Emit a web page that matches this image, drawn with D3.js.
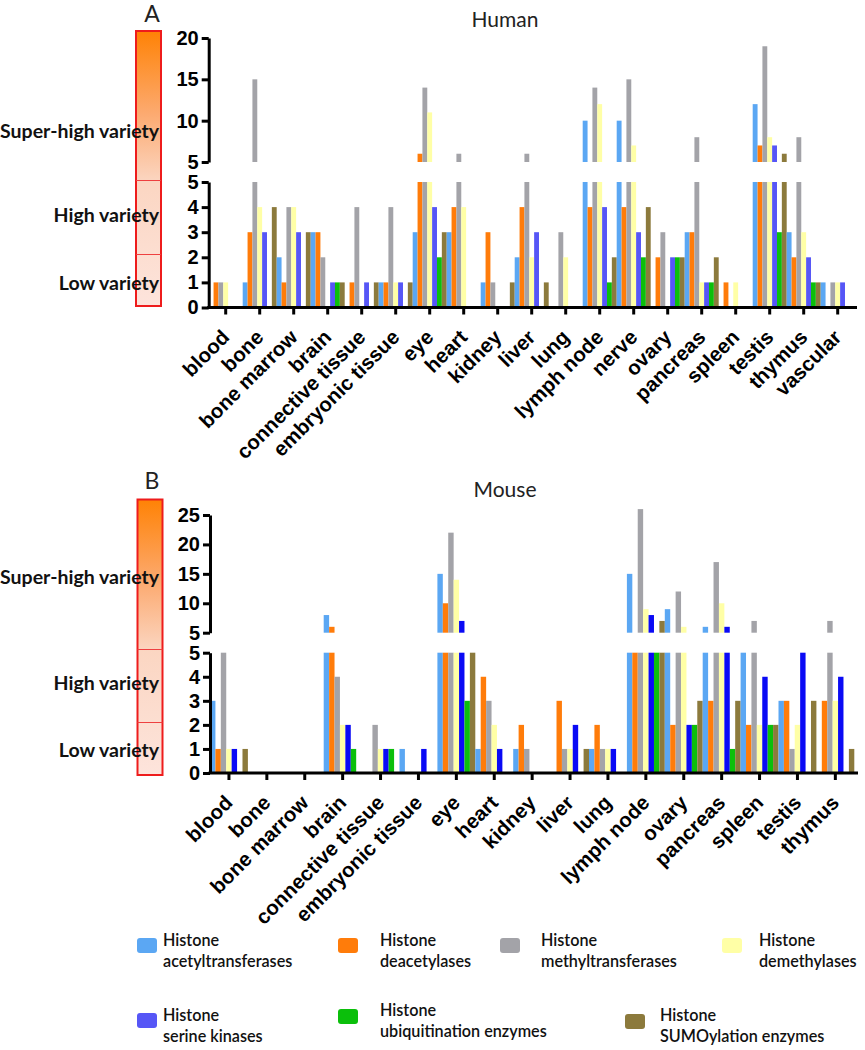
<!DOCTYPE html>
<html><head><meta charset="utf-8">
<script src="https://cdn.jsdelivr.net/npm/d3@7"></script>
<style>body{margin:0;background:#fff;} svg{display:block;}</style>
</head><body><svg id="c" width="865" height="1050"></svg>
<script>
// ---------------- DATA ----------------
const seriesKeys = ["acetyl","deacetyl","methyl","demethyl","serine","ubiq","sumo"];
const legendTop = "Histone";
const legendBottom = ["acetyltransferases","deacetylases","methyltransferases","demethylases",
                      "serine kinases","ubiquitination enzymes","SUMOylation enzymes"];
const varietyLabels = ["Super-high variety","High variety","Low variety"];

const humanCategories = ["blood","bone","bone marrow","brain","connective tissue","embryonic tissue","eye","heart",
  "kidney","liver","lung","lymph node","nerve","ovary","pancreas","spleen","testis","thymus","vascular"];
const humanAcetyl   = [0,1,2,3,0,1,3,3,1,2,0,10,10,0,3,0,12,3,1];
const humanDeacetyl = [1,3,1,3,1,1,6,4,3,4,0,4,4,2,3,1,7,2,0];
const humanMethyl   = [1,15,4,2,4,4,14,6,1,6,3,14,15,3,8,0,19,8,1];
const humanDemethyl = [1,4,4,0,0,1,11,4,0,2,2,12,7,0,1,1,8,3,1];
const humanSerine   = [0,3,3,1,1,1,4,0,0,3,0,4,3,2,1,0,7,2,1];
const humanUbiq     = [0,0,0,1,0,0,2,0,0,0,0,1,2,2,1,0,3,1,0];
const humanSumo     = [0,4,3,1,1,1,3,0,1,1,0,2,4,2,2,0,6,1,0];
const humanTicksLow  = [0,1,2,3,4,5];
const humanTicksHigh = [5,10,15,20];

const mouseCategories = ["blood","bone","bone marrow","brain","connective tissue","embryonic tissue","eye","heart",
  "kidney","liver","lung","lymph node","ovary","pancreas","spleen","testis","thymus"];
const mouseAcetyl   = [3,0,0,8,0,1,15,1,1,0,1,15,9,6,5,3,0];
const mouseDeacetyl = [1,0,0,6,0,0,10,4,2,3,2,5,2,3,2,3,3];
const mouseMethyl   = [5,0,0,4,2,0,22,3,1,1,1,26,12,17,7,1,7];
const mouseDemethyl = [1,0,0,2,1,0,14,2,0,1,1,9,6,10,2,2,3];
const mouseSerine   = [1,0,0,2,1,1,7,1,0,2,1,8,2,6,4,5,4];
const mouseUbiq     = [0,0,0,1,1,0,3,0,0,0,0,5,2,1,2,0,0];
const mouseSumo     = [1,0,0,0,0,0,5,0,0,1,0,7,3,3,2,3,1];
const mouseTicksLow  = [0,1,2,3,4,5];
const mouseTicksHigh = [5,10,15,20,25];

// ---------------- STYLE ----------------
const humanColors  = ["#5ba7f3","#ff7c0a","#a3a3a8","#ffffa6","#5656f6","#0bbf0b","#8c7a3c"];
const mouseColors  = ["#5ba7f3","#ff7c0a","#a3a3a8","#ffffa6","#0a0af5","#0bbf0b","#8c7a3c"];
const legendColors = ["#5ba7f3","#ff7c0a","#a3a3a8","#ffffa6","#5656f6","#0bbf0b","#8c7a3c"];
const AX_FONT = "'Liberation Sans', Arial, sans-serif";
const TXT_FONT = "Lato, 'Open Sans', sans-serif";

const svg = d3.select("#c");
const defs = svg.append("defs");
const grad = defs.append("linearGradient").attr("id","vg").attr("x1",0).attr("y1",0).attr("x2",0).attr("y2",1);
[[0,"#ff8205"],[0.3,"#fcaa70"],[0.55,"#fbd6c2"],[1,"#fde4dc"]].forEach(s=>
  grad.append("stop").attr("offset",s[0]).attr("stop-color",s[1]));

function fitFont(sel, target){
  const w = sel.node().getComputedTextLength();
  const fs = parseFloat(sel.attr("font-size"));
  const nf = fs*target/w;
  sel.attr("font-size", nf);
  return nf;
}

function panel(cfg){
  const g = svg.append("g");
  const n = cfg.categories.length;
  const x = d3.scaleBand().domain(cfg.categories).range([cfg.x0, cfg.x0 + n*cfg.groupW]).padding(0);
  const xs = d3.scaleBand().domain(seriesKeys).range([0, x.bandwidth()]).padding(0);
  const yLow = d3.scaleLinear().domain([0,5]).range([cfg.base, cfg.low5]);
  const yHigh = d3.scaleLinear().domain([5, cfg.highMax]).range([cfg.high5, cfg.highTop]);

  // colour scale bar
  g.append("rect").attr("x",cfg.barX).attr("y",cfg.barY0).attr("width",cfg.barW).attr("height",cfg.barY1-cfg.barY0)
    .attr("fill","url(#vg)").attr("stroke","#ee1c1c").attr("stroke-width",2);
  cfg.dividers.forEach(d=> g.append("line").attr("x1",cfg.barX).attr("x2",cfg.barX+cfg.barW)
    .attr("y1",d).attr("y2",d).attr("stroke","#ee4040").attr("stroke-width",1));
  let fs = null;
  varietyLabels.forEach((t,i)=>{
    const tx = g.append("text").attr("x",159).attr("y",cfg.varY[i]).attr("text-anchor","end")
      .attr("font-family",TXT_FONT).attr("font-weight","bold").attr("font-size",20).attr("fill","#111").text(t);
    if(i===0) fs = fitFont(tx, 159); else tx.attr("font-size", fs);
  });

  // letter and title
  g.append("text").attr("x",152).attr("y",cfg.letterY).attr("text-anchor","middle")
    .attr("font-family",TXT_FONT).attr("font-size",23).attr("fill","#222").text(cfg.letter);
  g.append("text").attr("x",505).attr("y",cfg.titleY).attr("text-anchor","middle")
    .attr("font-family",TXT_FONT).attr("font-size",21).attr("fill","#222").text(cfg.title);

  // bars
  const data = cfg.categories.map((c,i)=>({c, vals: cfg.series.map((s,k)=>({k:seriesKeys[k], v:s[i], col:cfg.colors[k]}))}));
  const grp = g.selectAll("g.grp").data(data).join("g").attr("transform",d=>`translate(${x(d.c)},0)`);
  grp.selectAll("rect.lo").data(d=>d.vals.filter(v=>v.v>0)).join("rect")
    .attr("x",d=>xs(d.k)).attr("width",xs.bandwidth())
    .attr("y",d=>yLow(Math.min(d.v,5))).attr("height",d=>yLow(0)-yLow(Math.min(d.v,5)))
    .attr("fill",d=>d.col);
  grp.selectAll("rect.hi").data(d=>d.vals.filter(v=>v.v>5)).join("rect")
    .attr("x",d=>xs(d.k)).attr("width",xs.bandwidth())
    .attr("y",d=>yHigh(d.v)).attr("height",d=>yHigh(5)-yHigh(d.v))
    .attr("fill",d=>d.col);

  // y axes
  const axL = g.append("g").attr("transform",`translate(${cfg.x0},0)`)
    .call(d3.axisLeft(yLow).tickValues(cfg.ticksLow).tickSize(7).tickSizeOuter(0).tickPadding(3).tickFormat(d3.format("d")));
  const axH = g.append("g").attr("transform",`translate(${cfg.x0},0)`)
    .call(d3.axisLeft(yHigh).tickValues(cfg.ticksHigh).tickSize(7).tickSizeOuter(0).tickPadding(3).tickFormat(d3.format("d")));
  [axL,axH].forEach(a=>{
    a.select(".domain").attr("stroke","#000").attr("stroke-width",3);
    a.selectAll(".tick line").attr("stroke","#000").attr("stroke-width",3);
    a.selectAll(".tick text").attr("font-family",AX_FONT).attr("font-weight","bold").attr("font-size",20).attr("fill","#000");
  });

  // x axis
  const axX = g.append("g").attr("transform",`translate(0,${cfg.base})`)
    .call(d3.axisBottom(x).tickSize(7).tickSizeOuter(0).tickFormat(""));
  axX.select(".domain").remove();
  axX.selectAll(".tick line").attr("stroke","#000").attr("stroke-width",3);
  g.append("line").attr("x1",cfg.x0-1.5).attr("x2",cfg.xEnd).attr("y1",cfg.base).attr("y2",cfg.base)
    .attr("stroke","#000").attr("stroke-width",3);
  g.selectAll("text.cat").data(cfg.categories).join("text").attr("class","cat")
    .attr("transform",d=>`translate(${x(d)+x.bandwidth()/2+5},${cfg.base+31}) rotate(-45)`)
    .attr("text-anchor","end").attr("font-family",AX_FONT).attr("font-weight","bold").attr("font-size",20.5)
    .attr("fill","#000").text(d=>d);
}

panel({
  categories: humanCategories,
  series: [humanAcetyl,humanDeacetyl,humanMethyl,humanDemethyl,humanSerine,humanUbiq,humanSumo],
  colors: humanColors, x0: 208.7, groupW: 34, xEnd: 857,
  base: 307.5, low5: 182, high5: 162, highTop: 38, highMax: 20,
  ticksLow: humanTicksLow, ticksHigh: humanTicksHigh,
  barX: 136, barW: 25, barY0: 31, barY1: 306, dividers: [180.5, 254.5],
  varY: [138, 222, 290], letter: "A", letterY: 22, title: "Human", titleY: 27
});
panel({
  categories: mouseCategories,
  series: [mouseAcetyl,mouseDeacetyl,mouseMethyl,mouseDemethyl,mouseSerine,mouseUbiq,mouseSumo],
  colors: mouseColors, x0: 210, groupW: 37.9, xEnd: 858,
  base: 773, low5: 652.7, high5: 632.7, highTop: 515, highMax: 25,
  ticksLow: mouseTicksLow, ticksHigh: mouseTicksHigh,
  barX: 137.5, barW: 25, barY0: 499.5, barY1: 775, dividers: [649.5, 722.5],
  varY: [584, 690, 757], letter: "B", letterY: 489, title: "Mouse", titleY: 497
});

// legend
const legendPos = [
  {sx:137, tx:163, sy:938, ty:946},
  {sx:338, tx:380, sy:938, ty:946},
  {sx:500, tx:541, sy:938, ty:946},
  {sx:722, tx:759, sy:938, ty:946},
  {sx:137, tx:163, sy:1013, ty:1021},
  {sx:338, tx:380, sy:1009, ty:1016},
  {sx:625, tx:660, sy:1014, ty:1021}
];
const lg = svg.append("g");
let lfs = null;
legendBottom.forEach((name,i)=>{
  const p = legendPos[i];
  lg.append("rect").attr("x",p.sx).attr("y",p.sy).attr("width",20).attr("height",15).attr("rx",3)
    .attr("fill",legendColors[i]);
  const t1 = lg.append("text").attr("x",p.tx).attr("y",p.ty).attr("font-family",TXT_FONT).attr("font-weight",600)
    .attr("font-size",16).attr("fill","#111").text(legendTop);
  const t2 = lg.append("text").attr("x",p.tx).attr("y",p.ty+21).attr("font-family",TXT_FONT).attr("font-weight",600)
    .attr("font-size",16).attr("fill","#111").text(name);
  if(i===2){ lfs = fitFont(t2, 136); }
});
lg.selectAll("text").attr("font-size", lfs);
</script></body></html>
